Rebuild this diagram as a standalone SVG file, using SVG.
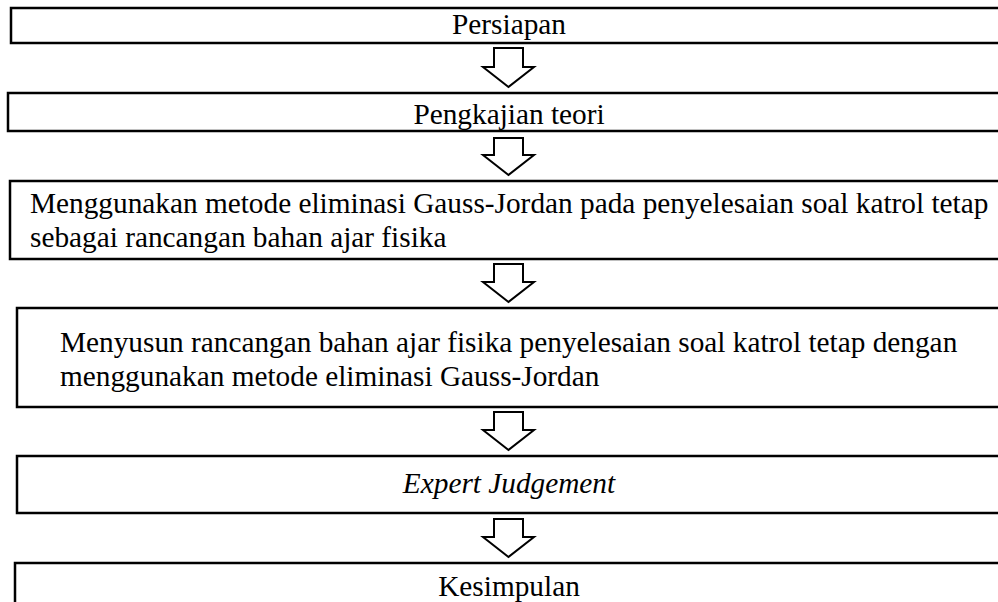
<svg xmlns="http://www.w3.org/2000/svg" width="998" height="602" viewBox="0 0 998 602">
<style>
.box{fill:#fff;stroke:#000;stroke-width:2.5}
.arr{fill:#fff;stroke:#000;stroke-width:2;stroke-linejoin:miter}
text{font-family:"Liberation Serif","Times New Roman",serif;font-size:29.3px;fill:#000}
.c{text-anchor:middle}
.i{font-style:italic}
</style>
<rect width="998" height="602" fill="#fff"/>
<g id="connectors">
<path class="arr" d="M494,48 H523 V67 H534 L508.5,87 L483,67 H494 Z"/>
<path class="arr" d="M494,138 H523 V155 H534 L508.5,175 L483,155 H494 Z"/>
<path class="arr" d="M494,264 H523 V282 H534 L508.5,302 L483,282 H494 Z"/>
<path class="arr" d="M494,412 H523 V430 H534 L508.5,450 L483,430 H494 Z"/>
<path class="arr" d="M494,519 H523 V537 H534 L508.5,557 L483,537 H494 Z"/>
</g>
<g id="persiapan">
<rect class="box" x="11" y="8" width="1000" height="35"/>
<text class="c" x="509" y="34">Persiapan</text>
</g>
<g id="pengkajian">
<rect class="box" x="8" y="93" width="1005" height="38"/>
<text class="c" x="509" y="124">Pengkajian teori</text>
</g>
<g id="menggunakan">
<rect class="box" x="10" y="181" width="1005" height="78"/>
<text x="30" y="213">Menggunakan metode eliminasi Gauss-Jordan pada penyelesaian soal katrol tetap</text>
<text x="30" y="247">sebagai rancangan bahan ajar fisika</text>
</g>
<g id="menyusun">
<rect class="box" x="17" y="308" width="1000" height="99"/>
<text x="60" y="352">Menyusun rancangan bahan ajar fisika penyelesaian soal katrol tetap dengan</text>
<text x="60" y="386">menggunakan metode eliminasi Gauss-Jordan</text>
</g>
<g id="expert">
<rect class="box" x="17" y="456" width="1000" height="57"/>
<text class="c i" x="509" y="493">Expert Judgement</text>
</g>
<g id="kesimpulan">
<rect class="box" x="15" y="563" width="1000" height="50"/>
<text class="c" x="509" y="596">Kesimpulan</text>
</g>
</svg>
